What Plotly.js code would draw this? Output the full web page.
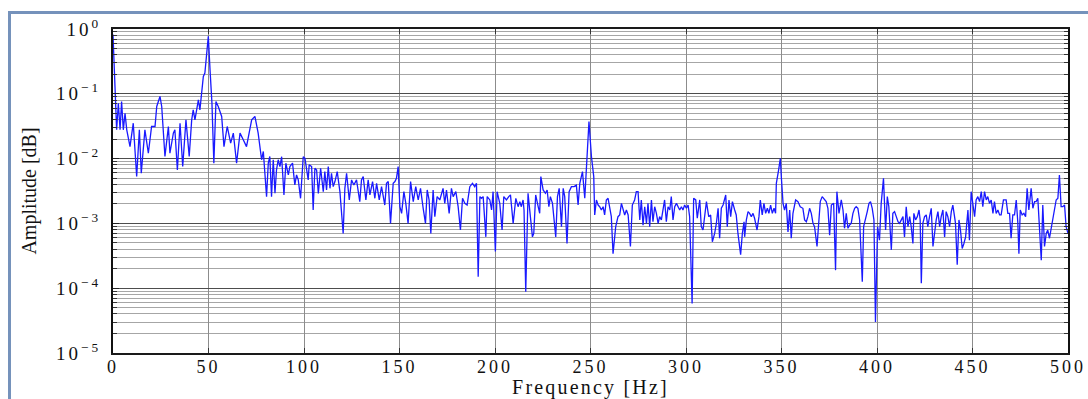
<!DOCTYPE html>
<html>
<head>
<meta charset="utf-8">
<script src="https://cdn.plot.ly/plotly-3.0.1.min.js"></script>
<style>
  html, body { margin: 0; padding: 0; background: #fff; }
  #wrap { position: relative; width: 1088px; height: 399px; overflow: hidden; }
  #chart { position: absolute; left: 0; top: 0; width: 1088px; height: 399px; }
  #frame { position: absolute; left: 8px; top: 11px; width: 1200px; height: 500px;
           border-left: 3px solid #7592bb; border-top: 3px solid #7592bb; pointer-events: none; }
  .xtick text, .ytick text { letter-spacing: 3px; }
  .g-xtitle text { letter-spacing: 2.2px; }
</style>
</head>
<body>
<div id="wrap"><div id="chart"></div><div id="frame"></div></div>
<script>
// ---- data (frequency in Hz, amplitude) ----
const freqA = [0,1.05,1.9,2.8,3.7,4.5,5.4,6.3,7.2,8.9,10.6,12.4,13.8,14.8,16.7,18.5,20.2,22.0,22.9,24.6,25.5,27.2,29.0,29.8,31.6,32.4,33.7,35.1,36.5,38.2,39.9,41.2,42.0,42.9,44.7,45.5,47.3,48.1,49.9,50.8,51.8,52.8,53.9,55.1,56.9,58.1,59.8,61.6,63.0,64.7,66.5,68.2,69.9,72.6,74.3,76.0,77.8,78.7,80.4,81.3,82.1,83.0,83.9,84.8,85.6,86.5];
const ampA = [0.82,0.091,0.0278,0.0716,0.0278,0.0762,0.0278,0.050,0.0278,0.0153,0.0352,0.00528,0.0278,0.00594,0.0278,0.0121,0.0313,0.0313,0.0637,0.091,0.0637,0.0108,0.0313,0.0121,0.0247,0.0278,0.00668,0.0352,0.00753,0.0396,0.0108,0.0396,0.0566,0.0396,0.0808,0.0566,0.185,0.209,0.77,0.235,0.0718,0.0085,0.0762,0.0637,0.0447,0.0153,0.0313,0.0173,0.0247,0.0085,0.0247,0.0195,0.0153,0.0396,0.0447,0.0247,0.0096,0.0129,0.00259,0.0085,0.0108,0.00259,0.0096,0.00292,0.00668,0.0096];

const freqB = [87.4,88.3,89.5,90.5,91.8,92.6,94.0,95.2,96.1,97.0,98.2,99.6,100.5,102.2,102.7,104.0,104.8,105.7,106.6,107.5,108.7,110.1,110.9,111.8,112.7,113.6,114.4,115.3,116.2,117.4,118.8,120.5,121.4,122.3,123.7,124.9,126.1,127.5,129.2,130.1,131.0,132.4,133.6,134.5,135.9,137.1,138.0,139.4,140.6,142.3,143.2,144.1,145.3,146.7,147.6,148.4,149.3,150.2,151.1,152.3,153.3,154.5,155.8,157.2,158.5,159.8,161.0,162.4,163.6,164.5,165.5,166.4,167.6,168.5,169.7,171.1,172.0,172.8,173.7,174.6,176.0,177.2,178.1,179.5,180.7,181.9,183.0,184.2,185.4,186.8,188.2,189.4,190.3,191.2];
const ampB = [0.00753,0.0107,0.00275,0.0085,0.0056,0.00753,0.0085,0.00392,0.0056,0.00469,0.00244,0.0107,0.0101,0.00469,0.0080,0.00753,0.00161,0.0071,0.00668,0.00291,0.0071,0.00309,0.0063,0.00328,0.00753,0.00348,0.00594,0.00369,0.00442,0.0063,0.00309,0.0007,0.00348,0.00594,0.0023,0.00469,0.00392,0.00469,0.00217,0.00469,0.00527,0.0023,0.00469,0.00275,0.00442,0.00244,0.00416,0.0023,0.00369,0.00192,0.00416,0.00442,0.0010,0.00416,0.00442,0.00497,0.00753,0.00181,0.00143,0.00309,0.00204,0.0010,0.00442,0.00217,0.00369,0.0023,0.00348,0.00171,0.0010,0.00328,0.0023,0.0007,0.00328,0.00127,0.00259,0.0023,0.00275,0.00348,0.00204,0.00328,0.00143,0.00348,0.00259,0.00309,0.00181,0.00079,0.00244,0.00204,0.00192,0.00369,0.00416,0.00369,0.00416,0.00015];

const freqC = [192.1,192.9,193.8,195.2,195.9,197.3,198.2,199.0,200.2,201.1,202.5,203.7,204.6,206.0,207.2,208.1,209.5,210.9,212.1,213.0,213.8,214.7,215.2,216.1,217.3,218.6,219.6,220.3,221.3,222.6,223.4,224.0,225.2,226.4,227.3,228.2,229.0,230.1,231.8,232.7,233.6,234.8,235.7,236.5,237.7,238.8,240.0,241.4,242.6,243.5,244.4,245.2,245.8,247.0,247.9,248.2,249.2,250.5,251.7,252.2,253.1,254.0,254.8,255.7,256.6,257.4,258.3,259.2,260.1,260.9,261.8,263.2,264.4,265.3,266.2,267.0,267.9,268.8,269.7,270.9,271.9,273.1,274.0,274.9,275.8,276.6,277.5,278.4,279.3,280.1,281.0,281.9,282.7,283.6,284.5,285.4,286.2,287.1,288.0,288.8,289.7,290.6,291.5,292.3,293.2,294.1,295.0,295.8,296.7];
const ampC = [0.00259,0.00244,0.00259,0.00062,0.00259,0.0023,0.00161,0.00309,0.00037,0.00309,0.00204,0.00079,0.00259,0.0023,0.00259,0.00275,0.0010,0.00244,0.00181,0.00217,0.00181,0.0023,0.00161,0.000088,0.00291,0.00135,0.00062,0.0007,0.00275,0.00181,0.00143,0.00527,0.00328,0.00291,0.00328,0.00181,0.00259,0.00204,0.00062,0.00259,0.00348,0.00089,0.00348,0.00259,0.00049,0.00309,0.00369,0.00369,0.0039,0.00192,0.00416,0.00527,0.0063,0.00244,0.0063,0.0121,0.0374,0.0107,0.00527,0.00135,0.0023,0.00192,0.00181,0.00161,0.00181,0.00135,0.0023,0.00244,0.00161,0.00127,0.00034,0.00089,0.00127,0.00135,0.00204,0.00161,0.00135,0.00161,0.00135,0.00044,0.00192,0.0023,0.00309,0.00309,0.00113,0.0023,0.00094,0.00181,0.0010,0.00204,0.00089,0.0023,0.00106,0.00181,0.00143,0.0010,0.00127,0.00113,0.00161,0.0023,0.00106,0.00181,0.00161,0.00259,0.00113,0.00181,0.00204,0.00181,0.00161];

const freqD = [297.6,298.4,299.3,300.2,301.1,301.9,303.2,304.0,305.1,305.9,307.2,308.0,308.9,309.8,310.7,311.9,312.9,313.8,315.0,315.9,316.8,317.6,318.5,319.4,320.8,321.6,322.5,323.4,324.3,325.5,326.3,327.2,328.6,329.5,330.4,330.7,331.6,332.5,333.3,334.2,335.1,335.9,337.2,338.2,338.9,339.9,340.8,341.7,342.6,343.4,344.3,345.2,346.1,346.9,347.3,348.5,349.4,349.9,350.8,351.6,352.5,353.4,354.3,355.1,356.0,357.4,358.6,359.8,361.2,362.1,363.0,363.8,364.7,365.6,366.5,367.3,368.6,369.6,370.3,371.3,372.6,373.4,374.3,375.2,376.1,377.3,378.3,379.0,380.1,381.3,382.2,383.0,383.9,384.8,385.6,386.5,387.4,388.3,389.1,390.0,390.9,392.3,393.0,394.0,394.9,395.8,396.6,397.5,398.4,399.2,400.3,401.3];
const ampD = [0.00181,0.00161,0.00192,0.00171,0.00192,0.00127,0.000058,0.00244,0.0023,0.0012,0.0023,0.00089,0.00079,0.00143,0.00217,0.00127,0.00135,0.00052,0.0007,0.0010,0.00171,0.00059,0.00171,0.00192,0.00275,0.00089,0.0023,0.00127,0.00217,0.00161,0.00135,0.0007,0.00033,0.0007,0.00106,0.00062,0.00113,0.00152,0.00143,0.00127,0.00143,0.0012,0.00079,0.00127,0.0023,0.00135,0.00204,0.00143,0.00171,0.00143,0.00192,0.00143,0.00171,0.00143,0.00416,0.00668,0.0101,0.00527,0.00204,0.00161,0.00204,0.00074,0.00161,0.00059,0.00143,0.0023,0.00217,0.00181,0.00171,0.00113,0.00106,0.00127,0.00171,0.00143,0.0010,0.00089,0.00044,0.00113,0.00217,0.00259,0.0023,0.00217,0.00171,0.00066,0.00192,0.00204,0.00019,0.00309,0.00143,0.0023,0.00161,0.00084,0.00143,0.00084,0.00094,0.0010,0.00143,0.00171,0.00181,0.00171,0.00113,0.000126,0.00089,0.00127,0.00152,0.00204,0.00217,0.00171,0.00113,0.000030,0.00089,0.00055];

const freqE = [402.2,403.4,404.5,405.4,406.2,407.5,408.3,409.2,410.1,411.0,411.8,412.7,413.6,414.4,415.3,416.2,417.1,417.9,418.8,419.3,420.2,421.1,422.0,422.6,423.2,424.0,424.9,425.8,426.6,427.5,428.4,429.3,430.1,431.0,431.9,432.8,433.6,434.5,435.4,436.2,437.1,438.0,438.9,439.7,440.6,441.1,442.0,442.9,443.7,444.6,445.5,446.4,447.6,448.4,449.3,450.2,451.1,451.9,452.8,453.7,454.6,455.4,456.3,457.2,458.0,458.9,459.8,460.7,461.5,462.4,463.3,464.2,465.0,466.2,467.6,468.5,469.4,470.2,471.1,472.0,472.9,473.7,474.3,475.0,476.0,476.9,477.8,478.6,479.5,480.7,481.6,482.5,483.3,484.2,485.1,486.0,486.8,487.7,488.6,489.4,490.3,491.2,492.1,492.9,493.8,494.7,495.5,496.4,497.3,498.2,499.0,500.0];
const ampE = [0.00204,0.00497,0.00079,0.00259,0.00181,0.00039,0.00143,0.00152,0.00127,0.00106,0.0010,0.00113,0.00127,0.00062,0.00181,0.00089,0.00127,0.00089,0.00049,0.00143,0.00113,0.00127,0.00161,0.00113,0.000119,0.0010,0.00127,0.00135,0.00089,0.00127,0.00171,0.00044,0.0007,0.00113,0.00152,0.00089,0.00127,0.00161,0.00062,0.00152,0.00127,0.00089,0.00152,0.00192,0.00127,0.0010,0.00023,0.00113,0.00079,0.00041,0.00049,0.00062,0.00161,0.00055,0.00309,0.00181,0.00127,0.0023,0.00259,0.00217,0.00309,0.00181,0.00309,0.0023,0.00259,0.00204,0.0023,0.00143,0.00217,0.00143,0.00161,0.00135,0.00135,0.0023,0.0023,0.00143,0.00143,0.00059,0.00135,0.00135,0.0023,0.00106,0.00034,0.00161,0.00135,0.00143,0.00127,0.00348,0.00161,0.00348,0.00171,0.00217,0.00217,0.00244,0.00062,0.00027,0.00192,0.00044,0.0007,0.00079,0.00059,0.00084,0.00127,0.00171,0.0023,0.00244,0.0056,0.00181,0.00181,0.00192,0.00089,0.0007];

const xTickVals = [0,50,100,150,200,250,300,350,400,450,500];
const yTickVals = [1e-5,1e-4,1e-3,1e-2,1e-1,1];
const yTickText = ['10<sup>−5</sup>','10<sup>−4</sup>','10<sup>−3</sup>','10<sup>−2</sup>','10<sup>−1</sup>','10<sup>0</sup>'];

const freq = [].concat(freqA, freqB, freqC, freqD, freqE);
const amp = [].concat(ampA, ampB, ampC, ampD, ampE);

const serif = 'Liberation Serif, Times New Roman, serif';

const trace = {
  x: freq, y: amp, type: 'scatter', mode: 'lines',
  line: { color: 'rgb(25,25,255)', width: 1.3 },
  hoverinfo: 'skip'
};

const layout = {
  width: 1088, height: 399,
  margin: { l: 113, r: 20, t: 29, b: 46, pad: 0 },
  paper_bgcolor: '#ffffff', plot_bgcolor: '#ffffff',
  showlegend: false,
  xaxis: {
    range: [0, 500], tickvals: xTickVals, ticktext: xTickVals.map(String),
    ticks: 'inside', ticklen: 5, tickcolor: '#333', tickwidth: 1,
    showgrid: true, gridcolor: '#8c8c8c', gridwidth: 1,
    showline: true, linecolor: '#1a1a1a', linewidth: 1.6, mirror: 'ticks',
    zeroline: false, automargin: false,
    ticklabelstandoff: -3,
    tickfont: { family: serif, size: 18, color: '#111' },
    title: { text: 'Frequency [Hz]', font: { family: serif, size: 20, color: '#111' }, standoff: 5 }
  },
  yaxis: {
    type: 'log', range: [-5, 0], tickvals: yTickVals, ticktext: yTickText,
    ticks: 'inside', ticklen: 6, tickcolor: '#222', tickwidth: 1,
    showgrid: true, gridcolor: '#4d4d4d', gridwidth: 1,
    minor: { dtick: 'D1', ticks: 'inside', ticklen: 4, tickcolor: '#333', showgrid: true, gridcolor: '#a6a6a6', gridwidth: 1 },
    showline: true, linecolor: '#111', linewidth: 2, mirror: 'ticks',
    zeroline: false, automargin: false,
    ticklabelstandoff: 6,
    tickfont: { family: serif, size: 19, color: '#111' },
    title: { text: 'Amplitude [dB]', font: { family: serif, size: 20, color: '#111' }, standoff: 14 }
  }
};

Plotly.newPlot('chart', [trace], layout, { staticPlot: true, displayModeBar: false });
</script>
</body>
</html>
